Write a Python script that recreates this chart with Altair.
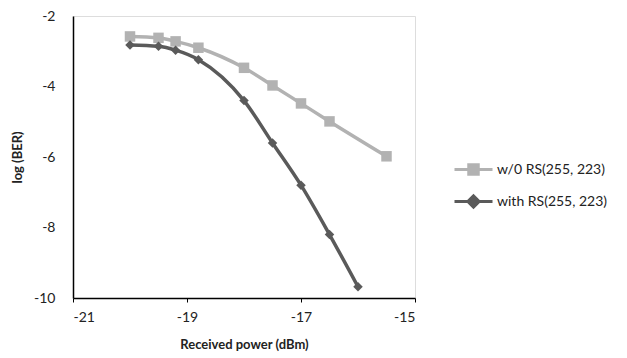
import altair as alt
import pandas as pd

power = [-20.0, -19.5, -19.2, -18.8, -18.0, -17.5, -17.0, -16.5]
power_wo = power + [-15.5]
power_with = power + [-16.0]
ber_wo = [-2.58, -2.62, -2.72, -2.9, -3.47, -3.97, -4.48, -4.99, -5.98]
ber_with = [-2.82, -2.86, -2.97, -3.24, -4.4, -5.6, -6.8, -8.2, -9.68]
series = ["w/0 RS(255, 223)", "with RS(255, 223)"]
colors = ["#b2b2b2", "#5a5a5a"]

df = pd.concat([
    pd.DataFrame({"p": power_wo, "ber": ber_wo, "s": series[0], "o": range(9)}),
    pd.DataFrame({"p": power_with, "ber": ber_with, "s": series[1], "o": range(9)}),
])

FONT = "Lato"
xenc = alt.X("p:Q", scale=alt.Scale(domain=[-21, -15], nice=False),
             axis=alt.Axis(values=[-21, -19, -17, -15], title="Received power (dBm)",
                           labelExpr="toString(datum.value)",
                           grid=False, domainColor="#000", domainWidth=1.5,
                           tickColor="#000", tickSize=4, labelPadding=8,
                           titlePadding=14, labelFontSize=14, titleFontSize=13,
                           titleFontWeight="bold", labelFont=FONT, titleFont=FONT,
                           labelColor="#222", titleColor="#222"))
yenc = alt.Y("ber:Q", scale=alt.Scale(domain=[-10, -2], nice=False),
             axis=alt.Axis(values=[-10, -8, -6, -4, -2], title="log (BER)",
                           labelExpr="toString(datum.value)",
                           grid=False, domainColor="#000", domainWidth=1.5,
                           ticks=False, labelPadding=18, titlePadding=9,
                           labelFontSize=14, titleFontSize=13, titleFontWeight="bold",
                           labelFont=FONT, titleFont=FONT,
                           labelColor="#222", titleColor="#222"))

sq_path = "M-1,0H-0.25V-0.25H0.25V0H1M0.25,0V0.25H-0.25V0"
dia_path = "M-1,0H-0.3L0,-0.3L0.3,0H1M0.3,0L0,0.3L-0.3,0"

base = alt.Chart(df)
layers = []
for name, col, shp, sz in [(series[0], colors[0], "square", 110),
                           (series[1], colors[1], "diamond", 90)]:
    sub = base.transform_filter(alt.datum.s == name)
    layers.append(sub.mark_line(strokeWidth=3.5, interpolate="monotone", color=col)
                  .encode(x=xenc, y=yenc, order="o:Q"))
    layers.append(sub.mark_point(shape=shp, filled=True, size=sz, opacity=1, color=col)
                  .encode(x=xenc, y=yenc))

legend = alt.Legend(
    title=None, orient="none", legendX=380, legendY=133,
    labelFont=FONT, labelFontSize=14, labelColor="#222",
    symbolSize=1444, symbolStrokeWidth=3, symbolOpacity=1, rowPadding=-5,
    labelOffset=3,
)
leg_layer = base.transform_filter("false").mark_point(filled=True, strokeWidth=3, opacity=1).encode(
    x=xenc, y=yenc,
    color=alt.Color("s:N", scale=alt.Scale(domain=series, range=colors), legend=legend),
    stroke=alt.Stroke("s:N", scale=alt.Scale(domain=series, range=colors), legend=legend),
    shape=alt.Shape("s:N", scale=alt.Scale(domain=series, range=[sq_path, dia_path]), legend=legend),
)
layers.append(leg_layer)

chart = alt.layer(*layers).properties(
    width=342, height=282,
    autosize=alt.AutoSizeParams(type="none"),
    padding={"left": 65, "top": 8, "right": 200, "bottom": 58},
).configure_view(stroke="#a6a6a6", strokeWidth=1).configure(background="white")

chart.save("out.html", embed_options={"renderer": "svg", "actions": False})
